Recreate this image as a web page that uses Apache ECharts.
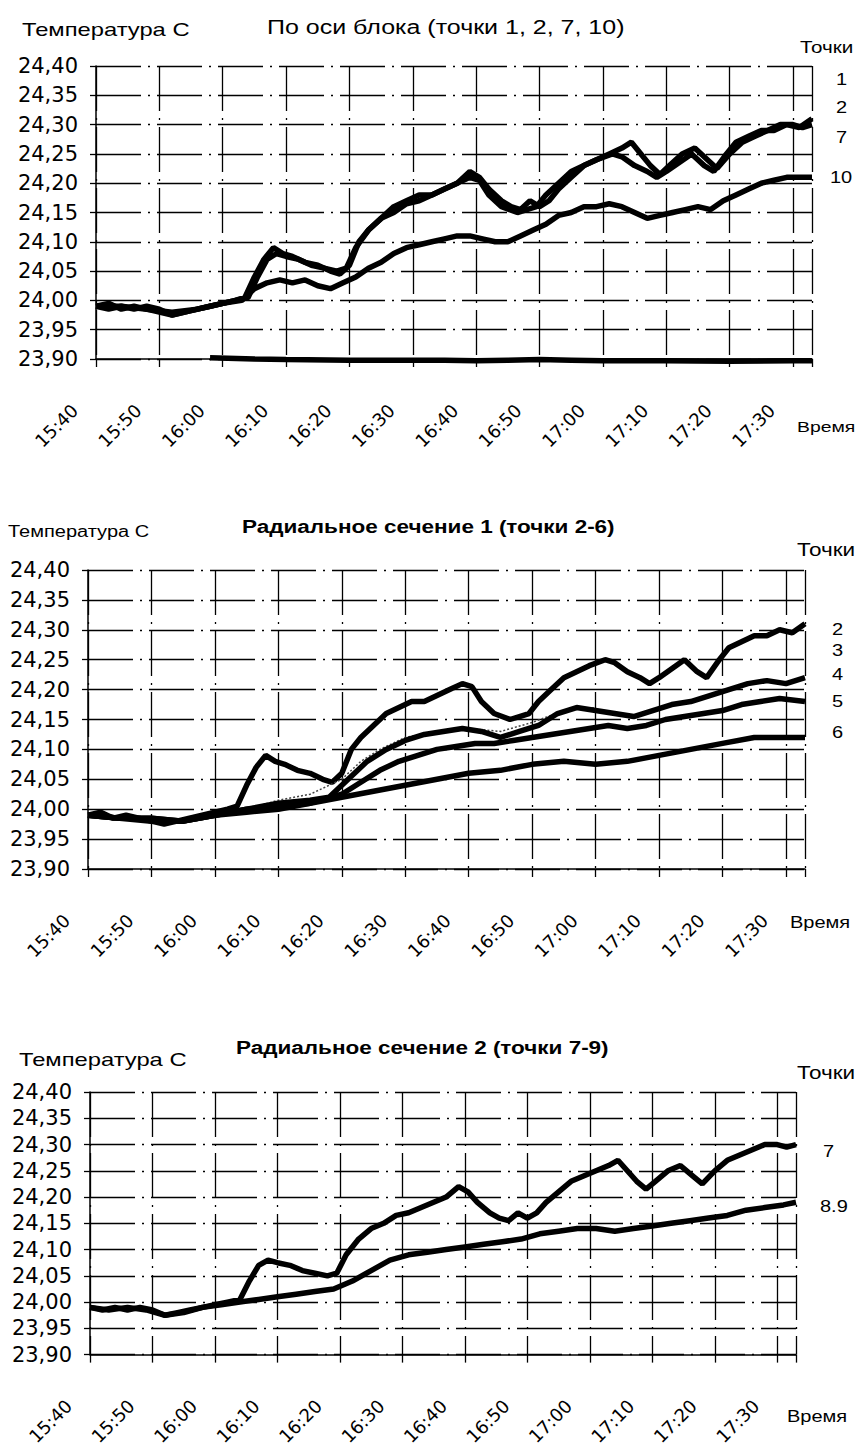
<!DOCTYPE html>
<html>
<head>
<meta charset="utf-8">
<script src="https://cdn.jsdelivr.net/npm/echarts@6/dist/echarts.min.js"></script>
<style>
  html, body { margin: 0; padding: 0; background: #fff; }
  #chart { width: 862px; height: 1448px; }
</style>
</head>
<body>
<div id="chart"></div>
<script>
// Tick labels
const TEMP_TICKS = ['23,90', '23,95', '24,00', '24,05', '24,10', '24,15', '24,20', '24,25', '24,30', '24,35', '24,40'];
const TIME_TICKS = ['15:40', '15:50', '16:00', '16:10', '16:20', '16:30', '16:40', '16:50', '17:00', '17:10', '17:20', '17:30'];

// Measured temperatures: [minutes after 15:40, °C]
const point1 = [[18, 23.902], [25, 23.900], [30, 23.899], [40, 23.898], [50, 23.898], [55, 23.898], [60, 23.897],
  [65, 23.898], [70, 23.899], [75, 23.898], [80, 23.897], [90, 23.897], [100, 23.896], [110, 23.897], [113, 23.897]];

const point2 = [[0, 23.99], [2, 23.995], [4, 23.985], [6, 23.99], [8, 23.985], [10, 23.98], [12, 23.975], [14, 23.98],
  [16, 23.985], [18, 23.99], [20, 23.995], [22, 24.0], [23.5, 24.005], [25, 24.04], [26.5, 24.07], [28, 24.09],
  [29.5, 24.08], [31, 24.075], [33, 24.065], [35, 24.06], [37, 24.05], [38.5, 24.045], [40, 24.06], [41.5, 24.10],
  [43, 24.12], [45, 24.14], [47, 24.16], [49, 24.17], [51, 24.18], [53, 24.18], [55, 24.19], [57, 24.20], [59, 24.21],
  [60.5, 24.205], [62, 24.18], [64, 24.16], [66.5, 24.15], [68, 24.155], [69.5, 24.16], [71, 24.18], [73, 24.20],
  [75, 24.22], [77, 24.23], [79, 24.24], [81.5, 24.25], [83, 24.245], [85, 24.23], [87, 24.22], [88.5, 24.21],
  [90, 24.22], [92, 24.235], [94, 24.25], [96, 24.23], [97.5, 24.22], [99.5, 24.25], [101, 24.27], [103, 24.28],
  [105, 24.29], [107, 24.29], [109, 24.30], [111, 24.295], [113, 24.31]];

const point3 = [[25, 24.0], [30, 24.015], [35, 24.025], [40, 24.05], [43, 24.08], [46, 24.10], [50, 24.12], [55, 24.13],
  [60, 24.135], [65, 24.13], [70, 24.145], [75, 24.165], [80, 24.17]];

const point4 = [[0, 23.99], [5, 23.985], [10, 23.985], [15, 23.98], [20, 23.99], [25, 24.0], [30, 24.01], [35, 24.015],
  [38, 24.02], [41, 24.05], [44, 24.08], [47, 24.10], [50, 24.115], [53, 24.125], [56, 24.13], [59, 24.135],
  [62, 24.13], [65, 24.12], [68, 24.13], [71, 24.14], [74, 24.16], [77, 24.17], [80, 24.165], [83, 24.16],
  [86, 24.155], [89, 24.165], [92, 24.175], [95, 24.18], [98, 24.19], [101, 24.20], [104, 24.21], [107, 24.215],
  [110, 24.21], [113, 24.22]];

const point5 = [[0, 23.99], [5, 23.985], [10, 23.985], [15, 23.98], [20, 23.99], [25, 24.0], [30, 24.005], [35, 24.01],
  [40, 24.025], [43, 24.045], [46, 24.065], [49, 24.08], [52, 24.09], [55, 24.10], [58, 24.105], [61, 24.11],
  [64, 24.11], [67, 24.115], [70, 24.12], [73, 24.125], [76, 24.13], [79, 24.135], [82, 24.14], [85, 24.135],
  [88, 24.14], [91, 24.15], [94, 24.155], [97, 24.16], [100, 24.165], [103, 24.175], [106, 24.18], [109, 24.185],
  [113, 24.18]];

const point6 = [[0, 23.99], [5, 23.985], [10, 23.98], [15, 23.98], [20, 23.99], [25, 23.995], [30, 24.0], [35, 24.01],
  [40, 24.02], [45, 24.03], [50, 24.04], [55, 24.05], [60, 24.06], [65, 24.065], [70, 24.075], [75, 24.08],
  [80, 24.075], [85, 24.08], [90, 24.09], [95, 24.10], [100, 24.11], [105, 24.12], [110, 24.12], [113, 24.12]];

const point7 = [[0, 23.99], [2, 23.985], [4, 23.99], [6, 23.985], [8, 23.99], [10, 23.985], [12, 23.975], [14, 23.98],
  [16, 23.985], [18, 23.99], [20, 23.995], [22, 24.0], [24, 24.005], [25.5, 24.04], [27, 24.07], [28.5, 24.08],
  [30, 24.075], [32, 24.07], [34, 24.06], [36, 24.055], [38, 24.05], [39.5, 24.055], [41, 24.09], [43, 24.12],
  [45, 24.14], [47, 24.15], [49, 24.165], [51, 24.17], [53, 24.18], [55, 24.19], [57, 24.20], [59, 24.22],
  [60.5, 24.21], [62, 24.19], [64, 24.17], [65.5, 24.16], [67, 24.155], [68.5, 24.17], [70, 24.16], [71.5, 24.17],
  [73, 24.19], [75, 24.21], [77, 24.23], [79, 24.24], [81, 24.25], [83, 24.26], [84.5, 24.27], [86, 24.25],
  [87.5, 24.23], [89, 24.215], [90.5, 24.23], [92.5, 24.25], [94.5, 24.26], [96.5, 24.24], [98, 24.225],
  [100, 24.25], [102, 24.27], [104, 24.28], [106, 24.29], [108, 24.30], [110, 24.30], [111.5, 24.295], [113, 24.30]];

const point89 = [[0, 23.99], [3, 23.985], [6, 23.99], [9, 23.985], [12, 23.975], [15, 23.98], [18, 23.99], [21, 23.995],
  [24, 24.0], [27, 24.005], [30, 24.01], [33, 24.015], [36, 24.02], [39, 24.025], [42, 24.04], [45, 24.06],
  [48, 24.08], [51, 24.09], [54, 24.095], [57, 24.10], [60, 24.105], [63, 24.11], [66, 24.115], [69, 24.12],
  [72, 24.13], [75, 24.135], [78, 24.14], [81, 24.14], [84, 24.135], [87, 24.14], [90, 24.145], [93, 24.15],
  [96, 24.155], [99, 24.16], [102, 24.165], [105, 24.175], [108, 24.18], [111, 24.185], [113, 24.19]];

const point10 = [[0, 23.99], [4, 23.99], [8, 23.985], [12, 23.98], [16, 23.985], [20, 23.995], [23, 24.0], [25, 24.02],
  [27, 24.03], [29, 24.035], [31, 24.03], [33, 24.035], [35, 24.025], [37, 24.02], [39, 24.03], [41, 24.04],
  [43, 24.055], [45, 24.065], [47, 24.08], [49, 24.09], [51, 24.095], [53, 24.10], [55, 24.105], [57, 24.11],
  [59, 24.11], [61, 24.105], [63, 24.10], [65, 24.10], [67, 24.11], [69, 24.12], [71, 24.13], [73, 24.145],
  [75, 24.15], [77, 24.16], [79, 24.16], [81, 24.165], [83, 24.16], [85, 24.15], [87, 24.14], [89, 24.145],
  [91, 24.15], [93, 24.155], [95, 24.16], [97, 24.155], [99, 24.17], [101, 24.18], [103, 24.19], [105, 24.20],
  [107, 24.205], [109, 24.21], [111, 24.21], [113, 24.21]];

// Panels: title, which measuring points, and the labels at the right margin
const PANELS = [
  { title: 'По оси блока (точки 1, 2, 7, 10)', lines: [point1, point2, point7, point10], tags: ['1', '2', '7', '10'] },
  { title: 'Радиальное сечение 1 (точки 2-6)', lines: [point2, point3, point4, point5, point6], tags: ['2', '3', '4', '5', '6'] },
  { title: 'Радиальное сечение 2 (точки 7-9)', lines: [point7, point89], tags: ['7', '8.9'] }
];

// ---- layout (pixels) ----
const GRIDS = [
  { left: 96, top: 66, width: 716, height: 293 },
  { left: 88, top: 570, width: 717, height: 299 },
  { left: 90, top: 1092, width: 706, height: 276 }
];
const TEXT_POS = [
  { yName: [22, 30, 19], title: [267, 27, 20, false], pts: [800, 47, 16.5], time: [797, 427, 15.5],
    tags: [[836, 80], [836, 108], [836, 138], [830, 178]] },
  { yName: [8, 532, 16], title: [242, 527, 18, true], pts: [797, 550, 18], time: [790, 923, 16],
    tags: [[832, 630], [832, 651], [832, 675], [832, 702], [832, 733]] },
  { yName: [19, 1060, 19], title: [236, 1048, 18, true], pts: [797, 1073, 18], time: [787, 1417, 16],
    tags: [[823, 1152], [820, 1207]] }
];

const FONT = '"Liberation Sans", Arial, sans-serif';
const gridLine = { color: '#000', width: 1.3, type: [45, 7, 2, 7] };

function text(x, y, str, size, bold) {
  return {
    type: 'text', x: x, y: y, scaleX: 1.25, silent: true,
    style: { text: str, fill: '#000', font: (bold ? 'bold ' : '') + size + 'px ' + FONT,
      align: 'left', verticalAlign: 'middle' }
  };
}

const grids = [], xAxes = [], yAxes = [], series = [], graphics = [];
PANELS.forEach((p, i) => {
  grids.push(Object.assign({ containLabel: false }, GRIDS[i]));
  xAxes.push({
    type: 'value', gridIndex: i, min: 0, max: 113, interval: 10,
    axisLine: { show: true, onZero: false, lineStyle: { color: '#000', width: 1.5 } },
    axisTick: { show: true, length: 8, lineStyle: { color: '#000', width: 1.3 } },
    axisLabel: {
      rotate: 45, margin: 27, padding: [0, 30, 0, 0], color: '#000', fontSize: 18,
      fontFamily: '"DejaVu Sans", sans-serif', showMaxLabel: true,
      formatter: v => {
        const k = Math.round(v / 10);
        return Math.abs(v - k * 10) < 1e-6 ? (TIME_TICKS[k] || '') : '';
      }
    },
    splitLine: { show: true, lineStyle: gridLine }
  });
  yAxes.push({
    type: 'value', gridIndex: i, min: 23.9, max: 24.4, interval: 0.05,
    axisLine: { show: true, lineStyle: { color: '#000', width: 1.5 } },
    axisTick: { show: true, length: 6, lineStyle: { color: '#000', width: 1.3 } },
    axisLabel: {
      margin: 18, color: '#000', fontSize: 21, fontFamily: '"DejaVu Sans", sans-serif',
      formatter: v => TEMP_TICKS[Math.round((v - 23.9) / 0.05)] || ''
    },
    splitLine: { show: true, lineStyle: gridLine }
  });
  p.lines.forEach((data, j) => {
    const faint = p.tags[j] === '3';
    series.push({
      type: 'line', xAxisIndex: i, yAxisIndex: i, data: data, showSymbol: false, silent: true,
      z: 3, clip: false,
      lineStyle: faint ? { color: '#444', width: 1.5, type: [2, 2] } : { color: '#000', width: 5.5 }
    });
  });

  const t = TEXT_POS[i];
  graphics.push(text(t.yName[0], t.yName[1], 'Температура С', t.yName[2], false));
  graphics.push(text(t.title[0], t.title[1], p.title, t.title[2], t.title[3]));
  graphics.push(text(t.pts[0], t.pts[1], 'Точки', t.pts[2], false));
  graphics.push(text(t.time[0], t.time[1], 'Время', t.time[2], false));
  p.tags.forEach((tag, j) => graphics.push(text(t.tags[j][0], t.tags[j][1], tag, 16, false)));
});

const chart = echarts.init(document.getElementById('chart'), null, { renderer: 'svg' });
chart.setOption({
  backgroundColor: '#fff',
  animation: false,
  grid: grids,
  xAxis: xAxes,
  yAxis: yAxes,
  series: series,
  graphic: graphics
});
</script>
</body>
</html>
